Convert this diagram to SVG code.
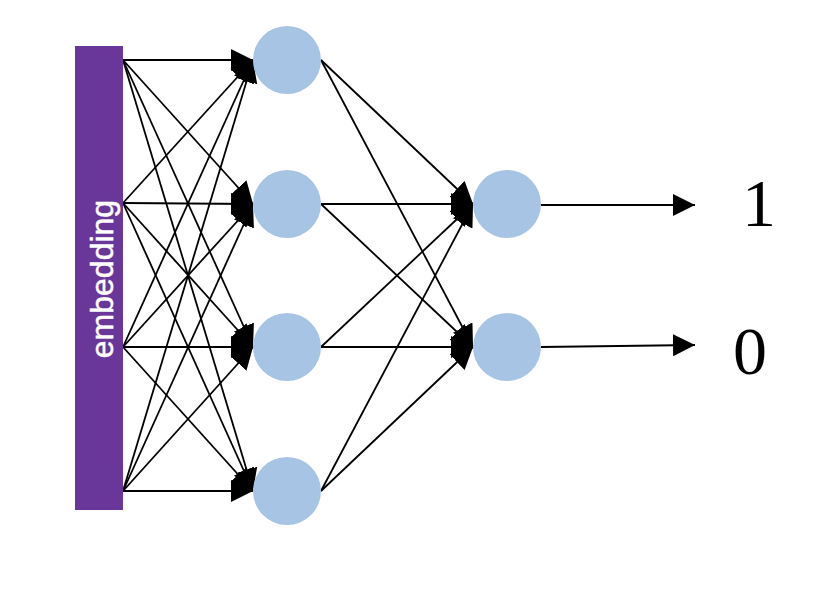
<svg xmlns="http://www.w3.org/2000/svg" width="824" height="592" viewBox="0 0 824 592">
<style>
.e{stroke:#000;stroke-width:1.8;fill:none;marker-end:url(#ah)}
.n{fill:#A8C4E4}
.d{font-family:"Liberation Serif","Times New Roman",serif;font-size:68px;fill:#000}
</style>
<defs>
<marker id="ah" markerUnits="userSpaceOnUse" viewBox="0 0 10 10" refX="10" refY="5" markerWidth="22" markerHeight="22" orient="auto">
<path d="M0,0 L10,5 L0,10 z" fill="#000"/>
</marker>
</defs>
<rect width="824" height="592" fill="#fff"/>
<g id="connectors">
<path class="e" d="M123,60 L253,60"/>
<path class="e" d="M123,60 L253,204"/>
<path class="e" d="M123,60 L253,347"/>
<path class="e" d="M123,60 L253,491"/>
<path class="e" d="M123,203 L253,60"/>
<path class="e" d="M123,203 L253,204"/>
<path class="e" d="M123,203 L253,347"/>
<path class="e" d="M123,203 L253,491"/>
<path class="e" d="M123,347 L253,60"/>
<path class="e" d="M123,347 L253,204"/>
<path class="e" d="M123,347 L253,347"/>
<path class="e" d="M123,347 L253,491"/>
<path class="e" d="M123,491 L253,60"/>
<path class="e" d="M123,491 L253,204"/>
<path class="e" d="M123,491 L253,347"/>
<path class="e" d="M123,491 L253,491"/>
<path class="e" d="M321,60 L473,204"/>
<path class="e" d="M321,60 L473,347"/>
<path class="e" d="M321,204 L473,204"/>
<path class="e" d="M321,204 L473,347"/>
<path class="e" d="M321,347 L473,204"/>
<path class="e" d="M321,347 L473,347"/>
<path class="e" d="M321,491 L473,204"/>
<path class="e" d="M321,491 L473,347"/>
<path class="e" d="M541,205 L695,205"/>
<path class="e" d="M541,347 L695,345"/>
</g>
<g id="embedding">
<rect x="75" y="46" width="48" height="464" fill="#693799"/>
<text transform="translate(113,279) rotate(-90)" text-anchor="middle" font-family="Liberation Sans, Arial, sans-serif" font-size="32" fill="#fff" stroke="#fff" stroke-width="0.5">embedding</text>
</g>
<g id="h1"><circle class="n" cx="287" cy="60" r="34"/></g>
<g id="h2"><circle class="n" cx="287" cy="204" r="34"/></g>
<g id="h3"><circle class="n" cx="287" cy="347" r="34"/></g>
<g id="h4"><circle class="n" cx="287" cy="491" r="34"/></g>
<g id="o1"><circle class="n" cx="507" cy="204" r="34"/></g>
<g id="o2"><circle class="n" cx="507" cy="347" r="34"/></g>
<g id="label1"><text class="d" x="759" y="226" text-anchor="middle">1</text></g>
<g id="label0"><text class="d" x="750" y="374" text-anchor="middle">0</text></g>
</svg>
